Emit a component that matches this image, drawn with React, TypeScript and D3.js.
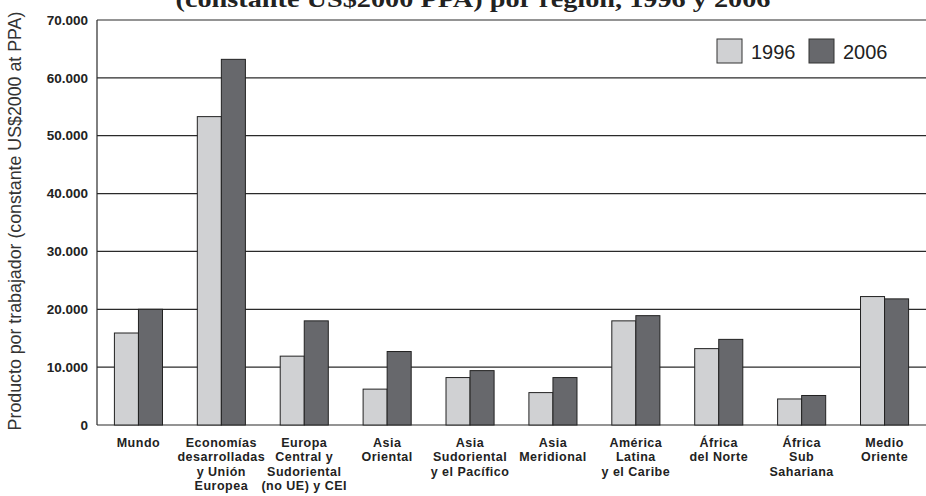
import React from "react";
import * as d3 from "d3";

const categories = [
  ["Mundo"],
  ["Economías", "desarrolladas", "y Unión", "Europea"],
  ["Europa", "Central y", "Sudoriental", "(no UE) y CEI"],
  ["Asia", "Oriental"],
  ["Asia", "Sudoriental", "y el Pacífico"],
  ["Asia", "Meridional"],
  ["América", "Latina", "y el Caribe"],
  ["África", "del Norte"],
  ["África", "Sub", "Sahariana"],
  ["Medio", "Oriente"],
];
const values1996 = [15900, 53300, 11900, 6200, 8200, 5600, 18000, 13200, 4500, 22200];
const values2006 = [20000, 63200, 18000, 12700, 9400, 8200, 18900, 14800, 5100, 21800];
const yTicks = [0, 10000, 20000, 30000, 40000, 50000, 60000, 70000];
const seriesNames = ["1996", "2006"];

const W = 926;
const H = 496;
const left = 97;
const right = 926;
const top = 20;
const bottom = 425;
const colors = ["#d0d1d3", "#67686c"];

const fmt = (v: number) => (v === 0 ? "0" : d3.format(",")(v).replace(/,/g, "."));

const App = () => {
  const x = d3
    .scaleBand<number>()
    .domain(d3.range(categories.length))
    .range([left, right])
    .paddingInner(0.42)
    .paddingOuter(0.21);
  const inner = d3
    .scaleBand<number>()
    .domain([0, 1])
    .range([0, x.bandwidth()]);
  const y = d3.scaleLinear().domain([0, 70000]).range([bottom, top]);
  const series = [values1996, values2006];

  return (
    <svg
      width={W}
      height={H}
      style={{ position: "absolute", left: 0, top: 0, background: "#fff" }}
    >
      <text
        x={473}
        y={7}
        textAnchor="middle"
        fontFamily="'Liberation Serif', serif"
        fontWeight="bold"
        fontSize={24}
        fill="#222"
        textLength={595}
        lengthAdjust="spacingAndGlyphs"
      >
        (constante US$2000 PPA) por región, 1996 y 2006
      </text>

      {yTicks.map(t => (
        <g key={t}>
          <line x1={left} x2={right} y1={y(t)} y2={y(t)} stroke="#2a2a2a" strokeWidth={1.2} />
          <text
            x={88}
            y={y(t)}
            dy="0.35em"
            textAnchor="end"
            fontFamily="'Liberation Sans Narrow', 'Liberation Sans', sans-serif"
            fontWeight="bold"
            fontSize={13.5}
            fill="#222"
          >
            {fmt(t)}
          </text>
        </g>
      ))}
      <line x1={left} x2={left} y1={top} y2={bottom} stroke="#2a2a2a" strokeWidth={1.2} />

      {series.map((vals, s) =>
        vals.map((v, i) => (
          <rect
            key={`${s}-${i}`}
            x={(x(i) as number) + (inner(s) as number)}
            y={y(v)}
            width={inner.bandwidth()}
            height={bottom - y(v)}
            fill={colors[s]}
            stroke="#222"
            strokeWidth={1}
          />
        ))
      )}

      {categories.map((lines, i) => (
        <text
          key={i}
          x={(x(i) as number) + x.bandwidth() / 2}
          y={447}
          textAnchor="middle"
          fontFamily="'Liberation Sans', Arial, sans-serif"
          fontWeight="bold"
          fontSize={12.5}
          letterSpacing={0.5}
          fill="#222"
        >
          {lines.map((l, k) => (
            <tspan key={k} x={(x(i) as number) + x.bandwidth() / 2} dy={k === 0 ? 0 : 14.4}>
              {l}
            </tspan>
          ))}
        </text>
      ))}

      <text
        transform={`translate(21, 221) rotate(-90)`}
        textAnchor="middle"
        fontFamily="'Liberation Sans', Arial, sans-serif"
        fontSize={17.8}
        fill="#333"
      >
        Producto por trabajador (constante US$2000 at PPA)
      </text>

      {seriesNames.map((name, s) => (
        <g key={name} transform={`translate(${717 + s * 92}, 39)`}>
          <rect width={25} height={24} fill={colors[s]} stroke="#333" strokeWidth={1} />
          <text x={34} y={20} fontFamily="'Liberation Sans', Arial, sans-serif" fontSize={20} fill="#222">
            {name}
          </text>
        </g>
      ))}
    </svg>
  );
};

export default App;
